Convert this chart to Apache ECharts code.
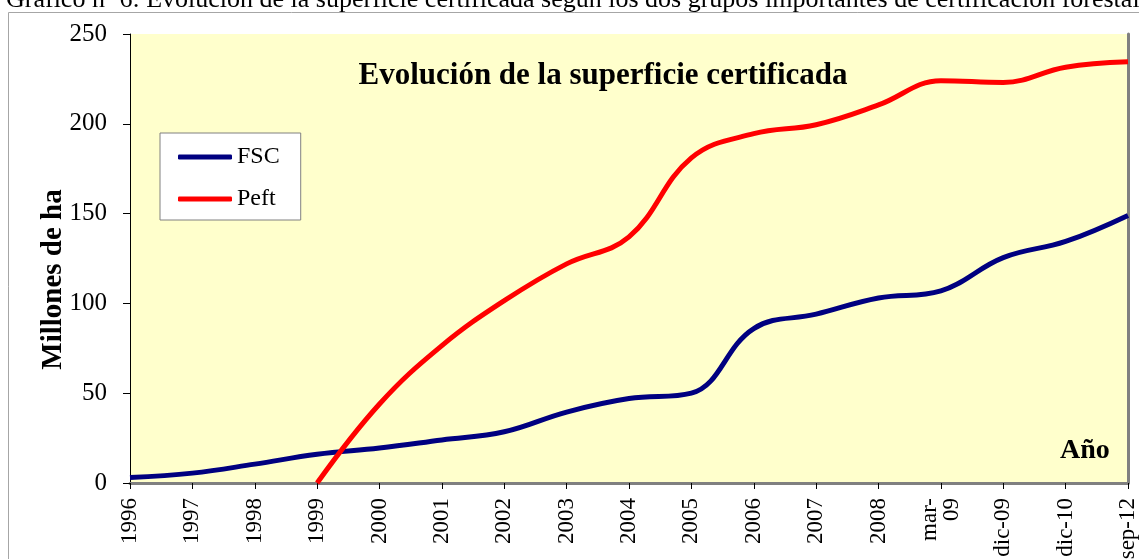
<!DOCTYPE html>
<html lang="es">
<head>
    <meta charset="UTF-8">
    <title>Evolución de la superficie certificada</title>
    <script src="https://cdn.jsdelivr.net/npm/echarts@6/dist/echarts.min.js"></script>
    <style>
        html, body { margin: 0; padding: 0; background: #fff; }
        #chart { width: 1139px; height: 559px; }
    </style>
</head>
<body>
<div id="chart"></div>
<script>
    // datos (millones de ha)
    var categories = ['1996', '1997', '1998', '1999', '2000', '2001', '2002', '2003', '2004',
        '2005', '2006', '2007', '2008', 'mar-\n09', 'dic-09', 'dic-10', 'sep-12'];
    var fscValues = [3, 5.5, 10.5, 16, 19.5, 24, 28.5, 39.5, 47, 50, 86, 94, 103, 107, 125.5, 134.5, 149];
    var peftValues = [null, null, null, 0, 44, 76.5, 101.5, 122, 137, 181, 194.5, 199.5, 210.5, 224, 223, 231.5, 234.5];
    var yTickValues = [0, 50, 100, 150, 200, 250];

    var serif = '"Liberation Serif", "Times New Roman", serif';

    var chart = echarts.init(document.getElementById('chart'), null, {renderer: 'canvas'});

    var option = {
        backgroundColor: '#ffffff',
        animation: false,
        textStyle: {fontFamily: serif, color: '#000'},
        title: {
            text: 'Evolución de la superficie certificada',
            left: 598,
            top: 55,
            textAlign: 'center',
            textStyle: {fontFamily: serif, fontSize: 31, fontWeight: 'bold', color: '#000'}
        },
        legend: {
            orient: 'vertical',
            left: 160,
            top: 133,
            backgroundColor: '#ffffff',
            borderColor: '#808080',
            borderWidth: 1,
            padding: [12, 21, 9, 18],
            itemGap: 18,
            itemWidth: 54,
            itemHeight: 5,
            icon: 'roundRect',
            textStyle: {fontFamily: serif, fontSize: 24, color: '#000', lineHeight: 24},
            data: ['FSC', 'Peft']
        },
        grid: {
            left: 130,
            right: 11,
            top: 34,
            bottom: 76,
            outerBoundsMode: 'none',
            show: true,
            backgroundColor: '#FFFFCC',
            borderWidth: 0
        },
        xAxis: [{
            type: 'category',
            data: categories,
            boundaryGap: false,
            axisLine: {lineStyle: {color: '#000', width: 1}},
            axisTick: {show: true, length: 6, lineStyle: {color: '#000'}},
            axisLabel: {
                interval: 0,
                rotate: 90,
                margin: 15,
                fontFamily: serif,
                fontSize: 23,
                lineHeight: 22,
                color: '#000'
            },
            splitLine: {show: false}
        }, {
            // borde gris superior del area de trazado
            type: 'category',
            data: categories,
            position: 'top',
            boundaryGap: false,
            axisLine: {lineStyle: {color: '#808080', width: 3}},
            axisTick: {show: false},
            axisLabel: {show: false},
            splitLine: {show: false}
        }],
        yAxis: [{
            type: 'value',
            min: yTickValues[0],
            max: yTickValues[yTickValues.length - 1],
            interval: 50,
            name: 'Millones de ha',
            nameLocation: 'middle',
            nameRotate: 90,
            nameGap: 62,
            nameMoveOverlap: false,
            nameTextStyle: {fontFamily: serif, fontSize: 29, fontWeight: 'bold', color: '#000', padding: [0, 42, 0, 0]},
            axisLine: {show: true, lineStyle: {color: '#000', width: 1}},
            axisTick: {show: true, length: 7, lineStyle: {color: '#000'}},
            axisLabel: {margin: 23, fontFamily: serif, fontSize: 25, color: '#000'},
            splitLine: {show: false}
        }, {
            // borde gris derecho
            type: 'value',
            position: 'right',
            min: yTickValues[0],
            max: yTickValues[yTickValues.length - 1],
            interval: 50,
            axisLine: {show: true, lineStyle: {color: '#808080', width: 3}},
            axisTick: {show: false},
            axisLabel: {show: false},
            splitLine: {show: false}
        }],
        graphic: [
            {
                type: 'text',
                x: 6,
                y: 13,
                style: {
                    text: 'Gráfico nº 6: Evolución de la superficie certificada según los dos grupos importantes de certificación forestal',
                    font: '26px ' + serif,
                    fill: '#000',
                    verticalAlign: 'bottom'
                }
            },
            {
                // marco exterior
                type: 'rect',
                shape: {x: 8.5, y: 12.5, width: 1300, height: 700},
                style: {fill: '#ffffff', stroke: '#a6a6a6', lineWidth: 1},
                silent: true,
                z: -10
            },
            {
                type: 'text',
                x: 1060,
                y: 437,
                style: {
                    text: 'Año',
                    font: 'bold 28px ' + serif,
                    fill: '#000',
                    textBaseline: 'alphabetic'
                }
            }
        ],
        series: [
            {
                name: 'FSC',
                type: 'line',
                data: fscValues,
                smooth: 0.4,
                symbol: 'none',
                color: '#000080',
                lineStyle: {color: '#000080', width: 5}
            },
            {
                name: 'Peft',
                type: 'line',
                data: peftValues,
                smooth: 0.4,
                symbol: 'none',
                color: '#FF0000',
                lineStyle: {color: '#FF0000', width: 5}
            }
        ]
    };

    chart.setOption(option);
</script>
</body>
</html>
